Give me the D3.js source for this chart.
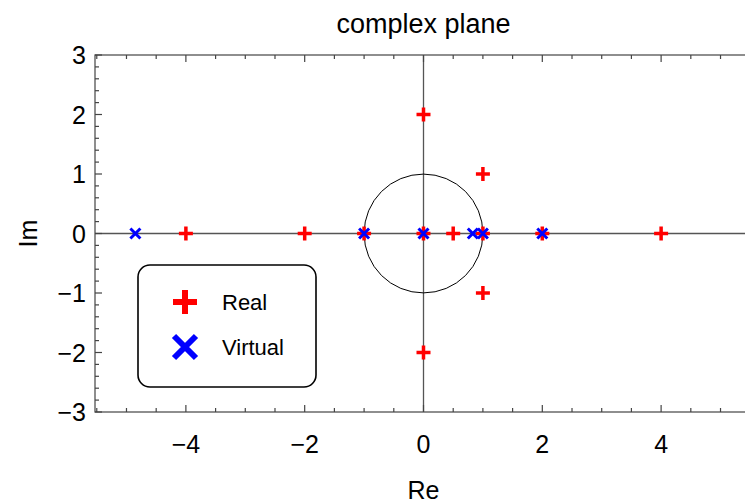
<!DOCTYPE html>
<html>
<head>
<meta charset="utf-8">
<script src="https://cdn.jsdelivr.net/npm/d3@7"></script>
<style>
  body { margin: 0; background: #fff; }
  svg { font-family: "Liberation Sans", Arial, sans-serif; }
</style>
</head>
<body>
<script>
// points
var realRe = [0, 1, 1, 0, -4, -2, -1, 0, 0.5, 1, 2, 4];
var realIm = [2, 1, -1, -2, 0, 0, 0, 0, 0, 0, 0, 0];
var virtRe = [-4.85, -1, 0, 0.83, 1, 2];
var virtIm = [0, 0, 0, 0, 0, 0];
var xTicks = [-4, -2, 0, 2, 4];
var yTicks = [-3, -2, -1, 0, 1, 2, 3];
var legendNames = ["Real", "Virtual"];

var width = 745, height = 503;

var x = d3.scaleLinear().domain([-5.53, 5.53]).range([95, 752]);
var y = d3.scaleLinear().domain([-3, 3]).range([412, 55]);

var svg = d3.select("body").append("svg")
    .attr("width", width)
    .attr("height", height);

// axes through the origin and the unit circle
svg.append("line")
    .attr("x1", x(-5.53)).attr("x2", x(5.53))
    .attr("y1", y(0)).attr("y2", y(0))
    .attr("stroke", "#555").attr("stroke-width", 1.3);
svg.append("line")
    .attr("x1", x(0)).attr("x2", x(0))
    .attr("y1", y(-3)).attr("y2", y(3))
    .attr("stroke", "#555").attr("stroke-width", 1.3);
svg.append("circle")
    .attr("cx", x(0)).attr("cy", y(0))
    .attr("r", x(1) - x(0))
    .attr("fill", "none").attr("stroke", "#000").attr("stroke-width", 1);

// frame with ticks on all sides
var xMinor = d3.range(-5.5, 5.51, 0.5).filter(function(v) { return xTicks.indexOf(v) < 0; });
var yMinor = d3.range(-3, 3.01, 0.2).map(function(v) { return Math.round(v * 10) / 10; })
    .filter(function(v) { return Math.abs(v - Math.round(v)) > 1e-6; });

var frame = svg.append("g").attr("stroke", "#444").attr("stroke-width", 1.2);

frame.append("rect")
    .attr("x", x(-5.53)).attr("y", y(3))
    .attr("width", x(5.53) - x(-5.53)).attr("height", y(-3) - y(3))
    .attr("fill", "none");

function xt(vals, len) {
  vals.forEach(function(v) {
    frame.append("line").attr("x1", x(v)).attr("x2", x(v))
        .attr("y1", y(-3)).attr("y2", y(-3) - len);
    frame.append("line").attr("x1", x(v)).attr("x2", x(v))
        .attr("y1", y(3)).attr("y2", y(3) + len);
  });
}
function yt(vals, len) {
  vals.forEach(function(v) {
    frame.append("line").attr("y1", y(v)).attr("y2", y(v))
        .attr("x1", x(-5.53)).attr("x2", x(-5.53) + len);
    frame.append("line").attr("y1", y(v)).attr("y2", y(v))
        .attr("x1", x(5.53)).attr("x2", x(5.53) - len);
  });
}
xt(xTicks, 7); xt(xMinor, 4);
yt(yTicks, 7); yt(yMinor, 4);

function fmt(v) { return v < 0 ? "\u2212" + (-v) : String(v); }

svg.append("g").selectAll("text")
    .data(xTicks).enter().append("text")
    .attr("x", function(d) { return x(d); })
    .attr("y", 453)
    .attr("text-anchor", "middle")
    .style("font-size", "25px")
    .text(fmt);

svg.append("g").selectAll("text")
    .data(yTicks).enter().append("text")
    .attr("x", 86)
    .attr("y", function(d) { return y(d) + 9; })
    .attr("text-anchor", "end")
    .style("font-size", "25px")
    .text(fmt);

svg.append("text")
    .attr("x", x(0)).attr("y", 33)
    .attr("text-anchor", "middle")
    .style("font-size", "27px")
    .text("complex plane");

svg.append("text")
    .attr("x", x(0)).attr("y", 499)
    .attr("text-anchor", "middle")
    .style("font-size", "25px")
    .text("Re");

svg.append("text")
    .attr("transform", "translate(37," + y(0) + ") rotate(-90)")
    .attr("text-anchor", "middle")
    .style("font-size", "25px")
    .text("Im");

// markers
function plus(g, cx, cy, r, w, color) {
  g.append("path")
      .attr("d", "M" + (cx - r) + "," + cy + "H" + (cx + r) + "M" + cx + "," + (cy - r) + "V" + (cy + r))
      .attr("stroke", color).attr("stroke-width", w).attr("fill", "none");
}
function cross(g, cx, cy, r, w, color) {
  g.append("path")
      .attr("d", "M" + (cx - r) + "," + (cy - r) + "L" + (cx + r) + "," + (cy + r) +
                 "M" + (cx - r) + "," + (cy + r) + "L" + (cx + r) + "," + (cy - r))
      .attr("stroke", color).attr("stroke-width", w).attr("fill", "none");
}

var marks = svg.append("g");
realRe.forEach(function(v, i) { plus(marks, x(v), y(realIm[i]), 7, 3.5, "#ff0000"); });
virtRe.forEach(function(v, i) { cross(marks, x(v), y(virtIm[i]), 5, 3, "#0000ff"); });

// legend
var leg = svg.append("g");
leg.append("rect")
    .attr("x", 138).attr("y", 265)
    .attr("width", 178).attr("height", 122)
    .attr("rx", 12)
    .attr("fill", "#fff").attr("stroke", "#000").attr("stroke-width", 1.6);
plus(leg, 185, 302, 12, 6, "#ff0000");
cross(leg, 185, 347, 11, 6, "#0000ff");
leg.selectAll("text")
    .data(legendNames).enter().append("text")
    .attr("x", 222)
    .attr("y", function(d, i) { return 310 + i * 45; })
    .style("font-size", "22px")
    .text(function(d) { return d; });
</script>
</body>
</html>
